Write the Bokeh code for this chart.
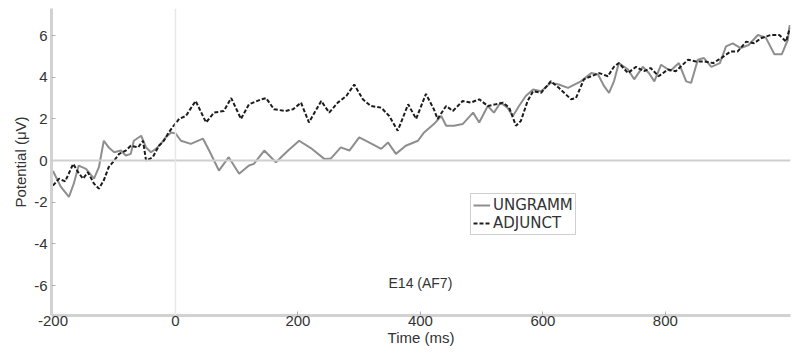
from bokeh.plotting import figure
from bokeh.models import Span, Label, Legend, LegendItem, FixedTicker, PrintfTickFormatter
from bokeh.embed import file_html
from bokeh.resources import INLINE

# ---- data ----
adj_t = [-200, -190, -180, -167, -159, -151, -143, -133, -125, -117, -109, -100, -92, -81, -73,
         -61, -53, -48, -37, -27, -19, -11, -3, 6, 17, 33, 50, 63, 79, 91, 107, 120, 140, 148,
         161, 180, 192, 205, 218, 238, 251, 265, 279, 292, 306, 319, 336, 349, 363, 380, 393,
         409, 422, 428, 442, 453, 469, 482, 496, 510, 523, 535, 545, 556, 564, 575, 584, 597,
         613, 626, 646, 654, 667, 679, 692, 706, 716, 724, 739, 752, 765, 776, 789, 804, 817,
         837, 850, 863, 878, 891, 907, 918, 932, 945, 956, 972, 986, 997, 1003]
adj_v = [-1.2, -0.87, -1.0, -0.16, -0.56, -0.87, -0.56, -1.11, -1.35, -0.95, -0.32, 0.0, 0.32,
         0.48, 0.71, 0.63, 0.95, 0.0, 0.16, 0.71, 0.95, 1.35, 1.67, 2.0, 2.14, 2.86, 1.83, 2.3,
         2.38, 3.0, 2.0, 2.7, 2.94, 3.0, 2.46, 2.38, 2.46, 2.78, 1.83, 2.86, 2.3, 2.78, 3.1,
         3.65, 2.94, 2.62, 2.54, 2.14, 1.43, 2.7, 2.0, 3.2, 2.46, 2.0, 2.62, 2.38, 2.86, 2.78,
         2.94, 2.62, 2.7, 2.78, 2.54, 1.67, 1.9, 2.86, 3.33, 3.25, 3.81, 3.49, 2.94, 3.0, 3.9,
         4.05, 4.2, 4.05, 4.5, 4.68, 4.2, 4.5, 4.29, 4.44, 4.05, 4.37, 4.29, 4.84, 4.76, 4.76,
         4.68, 4.92, 5.24, 5.24, 5.71, 5.63, 5.87, 6.03, 6.03, 5.71, 6.35]

ung_t = [-200, -187, -174, -166, -158, -146, -133, -125, -117, -109, -100, -89, -81, -73, -68,
         -56, -48, -40, -32, -24, -16, -7, 0, 9, 25, 45, 55, 71, 87, 104, 120, 128, 145, 164,
         184, 202, 221, 243, 254, 270, 284, 300, 316, 336, 347, 360, 376, 396, 406, 422, 434,
         442, 455, 469, 486, 496, 510, 520, 531, 542, 551, 561, 572, 584, 597, 613, 626, 641,
         662, 679, 690, 700, 708, 716, 724, 739, 749, 763, 773, 782, 793, 808, 822, 834, 842,
         853, 863, 875, 889, 899, 910, 923, 936, 951, 964, 978, 990, 1000, 1003]
ung_v = [-0.5, -1.27, -1.75, -1.11, -0.24, -0.4, -0.87, -0.32, 0.95, 0.63, 0.4, 0.48, 0.24,
         0.32, 0.95, 1.19, 0.63, 0.4, 0.56, 0.79, 1.11, 1.35, 1.3, 0.95, 0.8, 1.05, 0.48, -0.48,
         0.16, -0.63, -0.24, -0.16, 0.48, -0.08, 0.48, 0.95, 0.6, 0.08, 0.1, 0.63, 0.48, 1.11,
         0.87, 0.56, 0.87, 0.32, 0.71, 0.95, 1.35, 1.75, 2.14, 1.67, 1.67, 1.75, 2.3, 1.83,
         2.62, 2.3, 2.78, 2.54, 2.14, 2.62, 3.1, 3.41, 3.33, 3.73, 3.65, 3.49, 3.8, 4.2, 4.13,
         3.57, 3.25, 3.8, 4.68, 4.37, 3.9, 4.5, 4.2, 3.8, 4.6, 4.3, 4.68, 3.8, 3.73, 4.84, 4.92,
         4.5, 4.68, 5.48, 5.63, 5.4, 5.55, 6.03, 5.9, 5.1, 5.1, 5.8, 6.5]

x_ticks = [-200, 0, 200, 400, 600, 800]
y_ticks = [-6, -4, -2, 0, 2, 4, 6]
series_names = ["UNGRAMM", "ADJUNCT"]
channel_label = "E14 (AF7)"

FONT = "Liberation Sans"
TXT = "#333333"

p = figure(frame_width=739, frame_height=307, x_range=(-202.4, 1004.3), y_range=(-7.44, 7.30),
           output_backend="svg", toolbar_location=None,
           min_border_left=51, min_border_right=2, min_border_top=8, min_border_bottom=30)
p.outline_line_color = None
p.xgrid.visible = False
p.ygrid.visible = False
p.background_fill_color = "white"
p.border_fill_color = "white"

for ax in (p.xaxis[0], p.yaxis[0]):
    ax.axis_line_color = "#d2d2d2"
    ax.axis_line_width = 3
    ax.major_tick_line_color = "#b0b0b0"
    ax.major_tick_in = 4
    ax.major_tick_out = 0
    ax.minor_tick_line_color = None
    ax.major_label_text_font = FONT
    ax.major_label_text_font_size = "15px"
    ax.major_label_text_color = TXT
    ax.axis_label_text_font = FONT
    ax.axis_label_text_font_size = "15px"
    ax.axis_label_text_font_style = "normal"
    ax.axis_label_text_color = TXT
    ax.formatter = PrintfTickFormatter(format="%d")

p.xaxis.ticker = FixedTicker(ticks=x_ticks)
p.yaxis.ticker = FixedTicker(ticks=y_ticks)
p.xaxis.axis_label = "Time (ms)"
p.yaxis.axis_label = "Potential (μV)"
p.xaxis.major_label_standoff = 0
p.xaxis.axis_label_standoff = 0
p.yaxis.major_label_standoff = 4
p.yaxis.axis_label_standoff = 2

p.add_layout(Span(location=0, dimension="width", line_color="#cfcfcf", line_width=2))
p.add_layout(Span(location=0, dimension="height", line_color="#e8e8e8", line_width=1.5))

r_ung = p.line(ung_t, ung_v, line_color="#8e8e8e", line_width=2)
r_adj = p.line(adj_t, adj_v, line_color="#1c1c1c", line_width=2, line_dash="4 2")

legend = Legend(items=[LegendItem(label=series_names[0], renderers=[r_ung]),
                       LegendItem(label=series_names[1], renderers=[r_adj])],
                location=(419, 80))
legend.label_text_font = "DejaVu Sans"
legend.label_text_font_size = "15px"
legend.label_text_color = TXT
legend.border_line_color = "#a0a0a0"
legend.border_line_width = 1
legend.background_fill_color = "white"
legend.background_fill_alpha = 1
legend.padding = 2
legend.spacing = 0
legend.margin = 0
legend.label_height = 18
legend.glyph_height = 18
legend.glyph_width = 17
legend.label_standoff = 3
p.add_layout(legend)

p.add_layout(Label(x=400, y=-5.9, text=channel_label, text_align="center", text_baseline="middle",
                   text_font=FONT, text_font_size="14px", text_color=TXT))

open("out.html", "w").write(file_html(p, INLINE))
